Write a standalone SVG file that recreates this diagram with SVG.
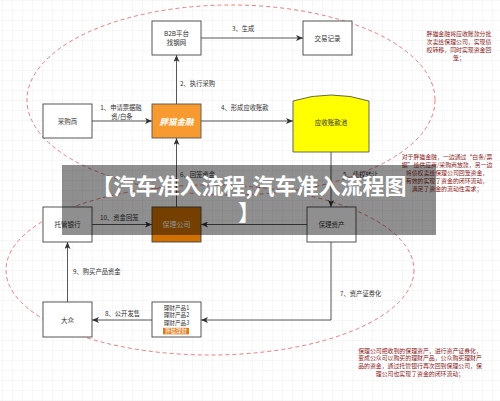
<svg xmlns="http://www.w3.org/2000/svg" width="500" height="401" viewBox="0 0 500 401">
<defs>
<pattern id="g" width="10" height="10" patternUnits="userSpaceOnUse" x="3" y="1">
<path d="M10,0 V10 M0,10 H10" fill="none" stroke="#e6e6e6" stroke-width="0.6"/>
</pattern>
<marker id="a" markerUnits="userSpaceOnUse" markerWidth="7" markerHeight="6" refX="7" refY="3" orient="auto">
<path d="M0,0 L7,3 L0,6 L1.8,3 Z" fill="#333"/>
</marker>
<style>
text{font-family:"Noto Sans CJK SC","Liberation Sans",sans-serif;}
.n{fill:#fff;stroke:#444;stroke-width:0.9;}
.t{font-size:6.5px;fill:#333;text-anchor:middle;}
.p{font-size:5.6px;fill:#333;text-anchor:middle;}
.l{font-size:6.3px;fill:#333;}
.c{fill:none;stroke:#444;stroke-width:0.9;marker-end:url(#a);}
.r{font-size:5.9px;fill:#8B1A1A;text-anchor:middle;}
.e{fill:none;stroke:#EC7C7C;stroke-width:1;stroke-dasharray:4 3;}
</style>
</defs>
<rect width="500" height="401" fill="#fff"/>
<rect width="500" height="401" fill="url(#g)"/>

<ellipse class="e" cx="231" cy="100" rx="204" ry="95"/>
<ellipse class="e" cx="210" cy="270" rx="204" ry="85"/>

<g id="connectors">
<path class="c" d="M92,121 H152"/>
<path class="c" d="M176.5,104 V55"/>
<path class="c" d="M201,38 H303"/>
<path class="c" d="M201,121 H293"/>
<path class="c" d="M331,152 V207"/>
<path class="c" d="M176.5,207 V138"/>
<path class="c" d="M331,242 V320 H201"/>
<path class="c" d="M152,320 H92"/>
<path class="c" d="M67.5,302 V242"/>
<path class="c" d="M92,224.5 H152"/>
<path class="c" d="M307,224.5 H201"/>
<text class="l" x="121" y="109.8" text-anchor="middle" font-size="6">1、申请票据融</text>
<text class="l" x="122" y="118.8" text-anchor="middle" font-size="6">资/白条</text>
<text class="l" x="180" y="85.5">2、执行采购</text>
<text class="l" x="232" y="30.5">3、生成</text>
<text class="l" x="221" y="109.5">4、形成应收账款</text>
<text class="l" x="343" y="176.5">5、债权转让</text>
<text class="l" x="180" y="176.5">6、回笼资金</text>
<text class="l" x="340" y="295.5">7、资产证券化</text>
<text class="l" x="105" y="315.5">8、公开发售</text>
<text class="l" x="73" y="273.5">9、购买产品资金</text>
<text class="l" x="100" y="219.5">10、资金回笼</text>
</g>

<g id="b2b"><rect class="n" x="152" y="21" width="49" height="34"/>
<text class="t" x="176.5" y="36" font-size="6">B2B平台</text><text class="t" x="176.5" y="45" font-size="6">找钢网</text></g>
<g id="jiaoyi"><rect class="n" x="303" y="21" width="49" height="34"/>
<text class="t" x="327.5" y="40.5">交易记录</text></g>
<g id="caigou"><rect class="n" x="43" y="104" width="49" height="34"/>
<text class="t" x="67.5" y="123.5">采购商</text></g>
<g id="pangmao"><rect x="152" y="104" width="49" height="34" fill="#F79A30" stroke="#555" stroke-width="0.9"/>
<text x="176.5" y="124.5" font-size="8.5" font-weight="bold" font-style="italic" fill="#fff" text-anchor="middle">胖猫金融</text></g>
<g id="yingshou"><path d="M293,101 Q331,89 369,101 V152 H293 Z" fill="#FFFF00" stroke="#555" stroke-width="0.9"/>
<text class="t" x="331" y="124.5">应收账款池</text></g>
<g id="tuoguan"><rect class="n" x="43" y="207" width="49" height="35"/>
<text class="t" x="67.5" y="227">托管银行</text></g>
<g id="baoli"><rect x="152" y="207" width="49" height="35" fill="#D07000" stroke="#444" stroke-width="0.9"/>
<text x="176.5" y="227" font-size="7" fill="#fff" text-anchor="middle">保理公司</text></g>
<g id="zichan"><rect class="n" x="307" y="207" width="49" height="35"/>
<text class="t" x="331.5" y="227">保理资产</text></g>
<g id="dazhong"><rect class="n" x="43" y="302" width="49" height="35"/>
<text class="t" x="67.5" y="322.5">大众</text></g>
<g id="licai"><rect class="n" x="152" y="302" width="49" height="35"/>
<text class="p" x="176.5" y="309.5">理财产品1</text>
<text class="p" x="176.5" y="317.2">理财产品2</text>
<text class="p" x="176.5" y="324.9">理财产品3</text>
<rect x="163" y="327.8" width="26" height="6.6" fill="#E07B1A"/>
<text x="176" y="333.3" font-size="5.4" fill="#fff" text-anchor="middle">胖猫理财</text></g>

<g id="notes">
<text class="r" x="459" y="36">胖猫金融将应收账款分批</text>
<text class="r" x="459" y="44">次卖给保理公司，实现债</text>
<text class="r" x="459" y="52">权转移，同时实现资金回</text>
<text class="r" x="459" y="60">笼；</text>
<text class="r" x="447" y="159">对于胖猫金融，一边通过“白条/票</text>
<text class="r" x="447" y="167">据”给供应商/采购商放款，另一边</text>
<text class="r" x="447" y="175">将债权卖给保理公司回笼资金，</text>
<text class="r" x="447" y="183">有效的实现了资金的闭环流动，</text>
<text class="r" x="447" y="191">满足了资金的流动性需求；</text>
<text class="r" x="420" y="352.5">保理公司把收到的保理资产，进行资产证券化，</text>
<text class="r" x="420" y="360.3">变成公众可以购买的理财产品，公众购买理财产</text>
<text class="r" x="420" y="368.1">品的资金，通过托管银行再次回到保理公司，保</text>
<text class="r" x="420" y="375.9">理公司也实现了资金的闭环流动；</text>
</g>

<g id="banner">
<rect x="62" y="165" width="374" height="70" fill="#000" opacity="0.44"/>
<text font-size="22" font-weight="bold" fill="#fff" text-anchor="middle"><tspan x="249" y="194">【汽车准入流程,汽车准入流程图</tspan><tspan x="249" y="220">】</tspan></text>
</g>
</svg>
